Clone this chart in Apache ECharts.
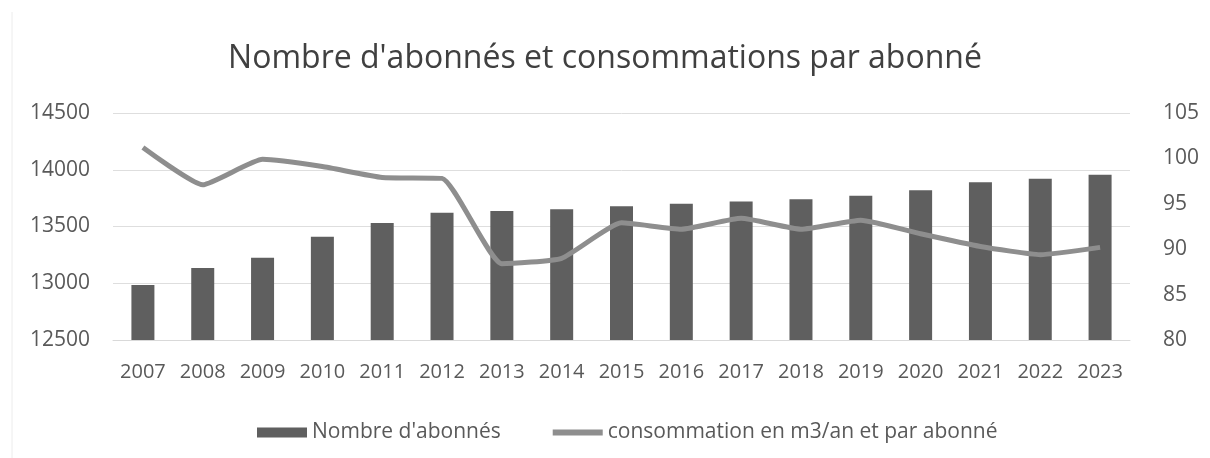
<!DOCTYPE html>
<html>
<head>
<meta charset="utf-8">
<script src="https://cdn.jsdelivr.net/npm/echarts@6/dist/echarts.min.js"></script>
<style>html,body{margin:0;padding:0;background:#fff}#c{width:1210px;height:458px}</style>
</head>
<body>
<div id="c"></div>
<script>
var years = ['2007','2008','2009','2010','2011','2012','2013','2014','2015','2016','2017','2018','2019','2020','2021','2022','2023'];
var abonnes = [12985, 13135, 13225, 13410, 13530, 13622, 13637, 13652, 13678, 13700, 13720, 13740, 13770, 13820, 13890, 13920, 13955];
var consommation = [101.2, 97.1, 99.9, 99.1, 97.9, 97.8, 88.4, 89.0, 92.9, 92.2, 93.4, 92.2, 93.2, 91.7, 90.3, 89.4, 90.2];
var leftTicks = [12500, 14500, 500];
var rightTicks = [80, 105, 5];

var font = '"Open Sans", "DejaVu Sans", sans-serif';
var chart = echarts.init(document.getElementById('c'));
chart.setOption({
  animation: false,
  backgroundColor: '#ffffff',
  textStyle: { fontFamily: font },
  title: {
    text: "Nombre d'abonnés et consommations par abonné",
    left: 'center', top: 38,
    textStyle: { fontFamily: font, fontSize: 32, fontWeight: 'normal', color: '#404040' }
  },
  legend: {
    bottom: 10, left: 252, itemGap: 52,
    itemWidth: 50, itemHeight: 10,
    textStyle: { fontFamily: font, fontSize: 21, color: '#595959' },
    data: [
      { name: "Nombre d'abonnés", icon: 'rect' },
      { name: 'consommation en m3/an et par abonné', icon: 'path://M0,0 L50,0 L50,6 L0,6 Z' }
    ]
  },
  grid: { left: 113, right: 80, top: 113, bottom: 118 },
  xAxis: {
    type: 'category', data: years,
    axisLine: { lineStyle: { color: '#d9d9d9' } },
    axisTick: { show: false },
    axisLabel: { fontFamily: font, fontSize: 20, color: '#595959', margin: 22, interval: 0 }
  },
  yAxis: [
    { type: 'value', min: leftTicks[0], max: leftTicks[1], interval: leftTicks[2],
      axisLine: { show: false }, axisTick: { show: false },
      splitLine: { lineStyle: { color: '#dedede' } },
      axisLabel: { fontFamily: font, fontSize: 21, color: '#595959', margin: 23,
        formatter: function (v) { return String(v); } } },
    { type: 'value', min: rightTicks[0], max: rightTicks[1], interval: rightTicks[2],
      axisLine: { show: false }, axisTick: { show: false },
      splitLine: { show: false },
      axisLabel: { fontFamily: font, fontSize: 21, color: '#595959', margin: 33,
        formatter: function (v) { return String(v); } } }
  ],
  series: [
    { name: "Nombre d'abonnés", type: 'bar', data: abonnes, barWidth: 23,
      itemStyle: { color: '#5f5f5f' } },
    { name: 'consommation en m3/an et par abonné', type: 'line', yAxisIndex: 1,
      data: consommation, smooth: 0.15, symbol: 'none',
      lineStyle: { width: 5, color: '#8e8e8e' }, itemStyle: { color: '#8e8e8e' } }
  ],
  graphic: [
    { type: 'line', shape: { x1: 12, y1: 12, x2: 12, y2: 458 }, style: { stroke: '#ececec', lineWidth: 1 } }
  ]
});
</script>
</body>
</html>
